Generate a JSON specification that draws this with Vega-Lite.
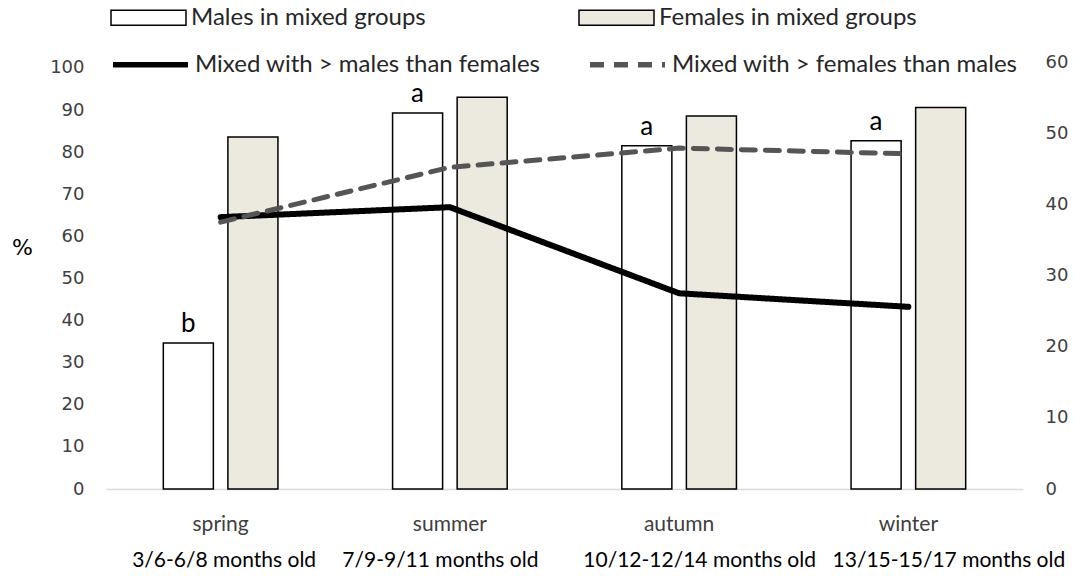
{
  "$schema": "https://vega.github.io/schema/vega-lite/v6.json",
  "autosize": "none",
  "width": 917,
  "height": 427,
  "padding": {"left": 106, "top": 62, "right": 61, "bottom": 87},
  "background": "white",
  "layer": [
    {
      "data": {
        "values": [
          {"season": "spring", "group": "Males in mixed groups", "value": 34.7, "letter": "b"},
          {"season": "spring", "group": "Females in mixed groups", "value": 83.6, "letter": ""},
          {"season": "summer", "group": "Males in mixed groups", "value": 89.3, "letter": "a"},
          {"season": "summer", "group": "Females in mixed groups", "value": 93, "letter": ""},
          {"season": "autumn", "group": "Males in mixed groups", "value": 81.5, "letter": "a"},
          {"season": "autumn", "group": "Females in mixed groups", "value": 88.6, "letter": ""},
          {"season": "winter", "group": "Males in mixed groups", "value": 82.7, "letter": "a"},
          {"season": "winter", "group": "Females in mixed groups", "value": 90.6, "letter": ""}
        ]
      },
      "layer": [
        {
          "mark": {"type": "bar", "stroke": "black", "strokeWidth": 1.5},
          "encoding": {
            "x": {
              "field": "season",
              "type": "nominal",
              "sort": ["spring", "summer", "autumn", "winter"],
              "scale": {"paddingInner": 0.5, "paddingOuter": 0.25},
              "axis": {
                "title": null,
                "labelAngle": 0,
                "ticks": false,
                "domainColor": "#d9d9d9",
                "domainWidth": 1.5,
                "labelFont": "Lato",
                "labelFontSize": 21,
                "labelColor": "#404040",
                "labelPadding": 24
              }
            },
            "xOffset": {
              "field": "group",
              "type": "nominal",
              "sort": ["Males in mixed groups", "Females in mixed groups"],
              "scale": {"paddingInner": 0.225, "paddingOuter": 0}
            },
            "y": {
              "field": "value",
              "type": "quantitative",
              "scale": {"domain": [0, 101.4], "nice": false},
              "axis": {
                "title": "%",
                "titleAngle": 0,
                "titleAlign": "center",
                "titleBaseline": "middle",
                "titleX": -84,
                "titleY": 185,
                "titleFont": "DejaVu Sans",
                "titleFontSize": 22,
                "titleFontWeight": "normal",
                "titleColor": "black",
                "values": [0, 10, 20, 30, 40, 50, 60, 70, 80, 90, 100],
                "grid": false,
                "domain": false,
                "ticks": false,
                "labelPadding": 22,
                "labelFont": "DejaVu Sans",
                "labelFontSize": 18,
                "labelColor": "#404040"
              }
            },
            "fill": {
              "field": "group",
              "type": "nominal",
              "sort": ["Males in mixed groups", "Females in mixed groups"],
              "scale": {"range": ["white", "#ece9df"]},
              "legend": {
                "title": null,
                "orient": "none",
                "legendX": 4,
                "legendY": -83,
                "direction": "horizontal",
                "columns": 2,
                "columnPadding": 150,
                "padding": 0,
                "symbolType": "M-1,-0.2H1V0.2H-1Z",
                "symbolSize": 5625,
                "symbolStrokeColor": "black",
                "symbolStrokeWidth": 1.5,
                "labelFont": "Lato",
                "labelFontSize": 24,
                "labelColor": "#262626",
                "labelOffset": 4,
                "labelLimit": 500
              }
            }
          }
        },
        {
          "transform": [{"filter": "datum.letter != ''"}],
          "mark": {"type": "text", "baseline": "bottom", "dy": -6, "font": "Lato", "fontSize": 26, "color": "black"},
          "encoding": {
            "x": {"field": "season", "type": "nominal", "sort": ["spring", "summer", "autumn", "winter"]},
            "xOffset": {"field": "group", "type": "nominal", "sort": ["Males in mixed groups", "Females in mixed groups"]},
            "y": {"field": "value", "type": "quantitative"},
            "text": {"field": "letter"}
          }
        }
      ]
    },
    {
      "data": {
        "values": [
          {"months": "3/6-6/8 months old", "series": "Mixed with > males than females", "value": 38.2},
          {"months": "7/9-9/11 months old", "series": "Mixed with > males than females", "value": 39.6},
          {"months": "10/12-12/14 months old", "series": "Mixed with > males than females", "value": 27.5},
          {"months": "13/15-15/17 months old", "series": "Mixed with > males than females", "value": 25.6},
          {"months": "3/6-6/8 months old", "series": "Mixed with > females than males", "value": 37.5},
          {"months": "7/9-9/11 months old", "series": "Mixed with > females than males", "value": 45.2},
          {"months": "10/12-12/14 months old", "series": "Mixed with > females than males", "value": 47.9},
          {"months": "13/15-15/17 months old", "series": "Mixed with > females than males", "value": 47.1}
        ]
      },
      "mark": {"type": "line", "strokeCap": "round", "strokeJoin": "round"},
      "encoding": {
        "x": {
          "field": "months",
          "type": "nominal",
          "sort": ["3/6-6/8 months old", "7/9-9/11 months old", "10/12-12/14 months old", "13/15-15/17 months old"],
          "scale": {"paddingInner": 0.5, "paddingOuter": 0.25},
          "axis": {
            "title": null,
            "orient": "bottom",
            "labelAngle": 0,
            "ticks": false,
            "domain": false,
            "labelFont": "Lato",
            "labelFontSize": 21,
            "labelColor": "black",
            "labelPadding": 60,
            "labelLimit": 400,
            "labelOffset": {
              "condition": [
                {"test": "datum.value == '7/9-9/11 months old'", "value": -10},
                {"test": "datum.value == '10/12-12/14 months old'", "value": 20},
                {"test": "datum.value == '13/15-15/17 months old'", "value": 40}
              ],
              "value": 3
            }
          }
        },
        "y": {
          "field": "value",
          "type": "quantitative",
          "scale": {"domain": [0, 60], "nice": false},
          "axis": {
            "title": null,
            "orient": "right",
            "values": [0, 10, 20, 30, 40, 50, 60],
            "grid": false,
            "domain": false,
            "ticks": false,
            "labelPadding": 22,
            "labelFont": "DejaVu Sans",
            "labelFontSize": 18,
            "labelColor": "#404040"
          }
        },
        "stroke": {
          "field": "series",
          "type": "nominal",
          "sort": ["Mixed with > males than females", "Mixed with > females than males"],
          "scale": {"range": ["black", "#555555"]},
          "legend": null
        },
        "strokeDash": {
          "field": "series",
          "type": "nominal",
          "sort": ["Mixed with > males than females", "Mixed with > females than males"],
          "scale": {"range": [[1, 0], [14, 10]]},
          "legend": {
            "title": null,
            "orient": "none",
            "legendX": 4,
            "legendY": -38,
            "direction": "horizontal",
            "columns": 2,
            "columnPadding": 38,
            "padding": 0,
            "symbolType": "stroke",
            "symbolSize": 5625,
            "symbolStrokeWidth": 5.5,
            "labelFont": "Lato",
            "labelFontSize": 24,
            "labelColor": "#262626",
            "labelOffset": 4,
            "labelLimit": 500,
            "encode": {
              "symbols": {
                "update": {
                  "stroke": {"signal": "datum.value == 'Mixed with > males than females' ? 'black' : '#555555'"}
                }
              }
            }
          }
        },
        "strokeWidth": {
          "field": "series",
          "type": "nominal",
          "sort": ["Mixed with > males than females", "Mixed with > females than males"],
          "scale": {"range": [6, 5]},
          "legend": null
        }
      }
    }
  ],
  "resolve": {"scale": {"y": "independent", "x": "independent"}, "axis": {"x": "independent"}},
  "config": {"view": {"stroke": null}}
}
